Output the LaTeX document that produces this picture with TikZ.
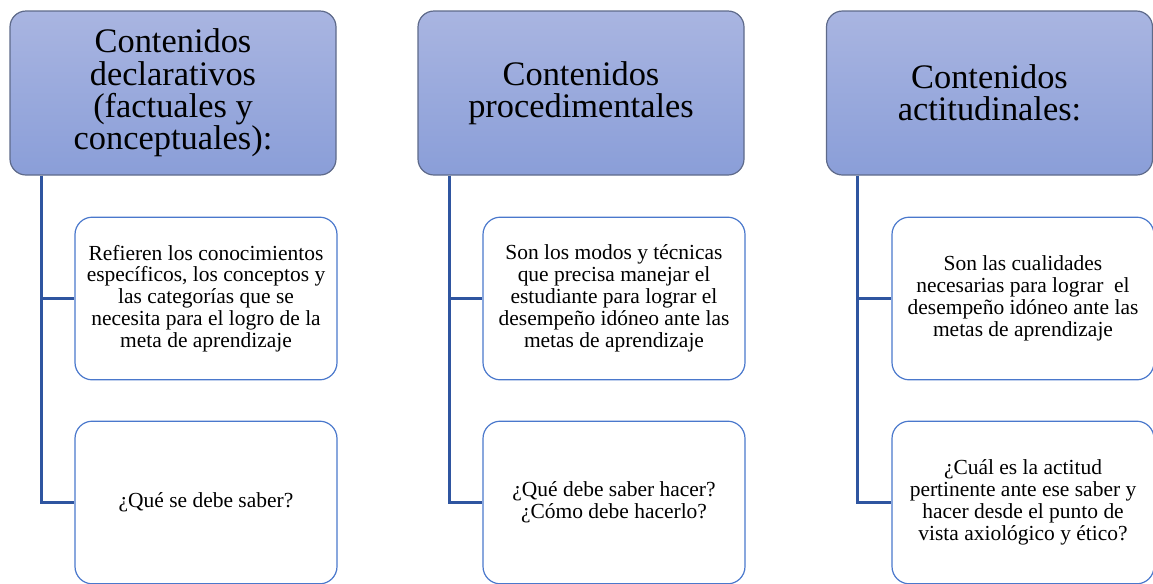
\documentclass[tikz,border=0pt]{standalone}
\usepackage{fontspec}
\setmainfont{Liberation Serif}
\usepackage{tikz}
\usetikzlibrary{positioning}
\definecolor{headtop}{HTML}{A9B5E1}
\definecolor{headbot}{HTML}{8A9ED8}
\definecolor{headline}{HTML}{5E6A8A}
\definecolor{boxline}{HTML}{4A78CC}
\definecolor{connline}{HTML}{2F55A0}
\tikzset{
  headbox/.style={draw=headline, line width=0.9pt, rounded corners=12pt,
    top color=headtop, bottom color=headbot, minimum width=244.5pt,
    minimum height=123pt, inner sep=0pt, align=center,
    font=\fontsize{25.8}{24.3}\selectfont},
  itembox/.style={draw=boxline, line width=0.9pt, rounded corners=13pt, fill=white,
    minimum width=196.5pt, minimum height=122pt, inner sep=0pt, align=center,
    font=\fontsize{16.1}{16.4}\selectfont},
  conn/.style={draw=connline, line width=2.2pt}
}

\begin{document}
\begin{tikzpicture}[x=0.75pt, y=-0.75pt]
    \useasboundingbox (0,0) rectangle (1153,583);
    % headers
    \node[headbox]	(H1)	at	(173,93)	{Contenidos\\declarativos\\(factuales y\\conceptuales):};
    \node[headbox]	(H2)	at	(581,93)	{Contenidos\\procedimentales};
    \node[headbox]	(H3)	at	(989.5,93)	{Contenidos\\actitudinales:};
    % items
    \node[itembox]	(A1)	at	(206,298.5)	{Refieren los conocimientos\\específicos, los conceptos y\\las categorías que se\\necesita para el logro de la\\meta de aprendizaje};
    \node[itembox]	(A2)	at	(206,502.5)	{¿Qué se debe saber?};
    \node[itembox]	(B1)	at	(614,298.5)	{Son los modos y técnicas\\que precisa manejar el\\estudiante para lograr el\\desempeño idóneo ante las\\metas de aprendizaje};
    \node[itembox]	(B2)	at	(614,502.5)	{¿Qué debe saber hacer?\\¿Cómo debe hacerlo?};
    \node[itembox]	(C1)	at	(1023,298.5)	{Son las cualidades\\necesarias para lograr\ \ el\\desempeño idóneo ante las\\metas de aprendizaje};
    \node[itembox]	(C2)	at	(1023,502.5)	{¿Cuál es la actitud\\pertinente ante ese saber y\\hacer desde el punto de\\vista axiológico y ético?};
    % connectors
    \draw[conn] ([xshift=24pt]H1.south west) |- (A1.west);
    \draw[conn] ([xshift=24pt]H1.south west) |- (A2.west);
    
    \draw[conn] ([xshift=24pt]H2.south west) |- (B1.west);
    \draw[conn] ([xshift=24pt]H2.south west) |- (B2.west);
    
    \draw[conn] ([xshift=24pt]H3.south west) |- (C1.west);
    \draw[conn] ([xshift=24pt]H3.south west) |- (C2.west);
\end{tikzpicture}
\end{document}
